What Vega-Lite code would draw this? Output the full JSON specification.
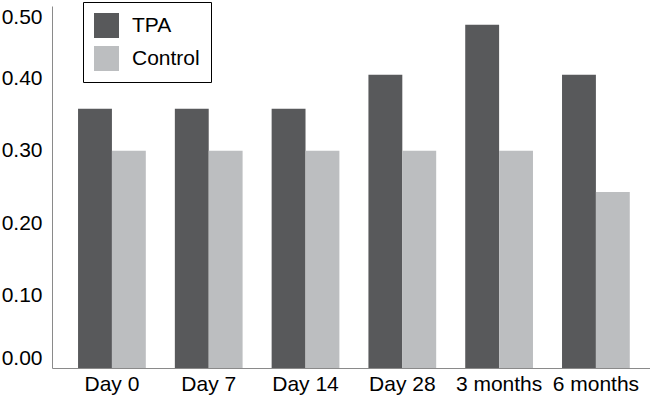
{
  "$schema": "https://vega.github.io/schema/vega-lite/v6.json",
  "autosize": {"type": "none"},
  "padding": {"left": 52, "top": 6, "right": 0, "bottom": 33},
  "width": 598,
  "height": 362,
  "background": "white",
  "data": {
    "values": [
      {"time": "Day 0", "group": "TPA", "value": 0.358},
      {"time": "Day 0", "group": "Control", "value": 0.3},
      {"time": "Day 7", "group": "TPA", "value": 0.358},
      {"time": "Day 7", "group": "Control", "value": 0.3},
      {"time": "Day 14", "group": "TPA", "value": 0.358},
      {"time": "Day 14", "group": "Control", "value": 0.3},
      {"time": "Day 28", "group": "TPA", "value": 0.405},
      {"time": "Day 28", "group": "Control", "value": 0.3},
      {"time": "3 months", "group": "TPA", "value": 0.474},
      {"time": "3 months", "group": "Control", "value": 0.3},
      {"time": "6 months", "group": "TPA", "value": 0.405},
      {"time": "6 months", "group": "Control", "value": 0.243}
    ]
  },
  "mark": {"type": "bar"},
  "encoding": {
    "x": {
      "field": "time",
      "type": "nominal",
      "sort": null,
      "title": null,
      "scale": {"paddingInner": 0.3, "paddingOuter": 0.239, "align": 0.563},
      "axis": {
        "labelAngle": 0,
        "ticks": false,
        "labelPadding": 5,
        "domainColor": "#8a8a8a",
        "labelFontSize": 21,
        "labelColor": "black"
      }
    },
    "xOffset": {
      "field": "group",
      "type": "nominal",
      "sort": ["TPA", "Control"],
      "scale": {"paddingInner": 0, "paddingOuter": 0}
    },
    "y": {
      "field": "value",
      "type": "quantitative",
      "title": null,
      "scale": {"domain": [0, 0.5], "nice": false},
      "axis": {
        "values": [0, 0.1, 0.2, 0.3, 0.4, 0.5],
        "format": ".2f",
        "grid": false,
        "ticks": false,
        "labelFlush": true,
        "labelPadding": 10,
        "domainColor": "#8a8a8a",
        "labelFontSize": 21,
        "labelColor": "black"
      }
    },
    "color": {
      "field": "group",
      "type": "nominal",
      "sort": ["TPA", "Control"],
      "scale": {"domain": ["TPA", "Control"], "range": ["#58595b", "#bcbec0"]},
      "legend": {
        "title": null,
        "orient": "none",
        "legendX": 31,
        "legendY": -4,
        "padding": 11,
        "strokeColor": "black",
        "symbolType": "square",
        "symbolSize": 625,
        "symbolStrokeWidth": 0,
        "symbolOpacity": 1,
        "labelFontSize": 21,
        "labelColor": "black",
        "labelOffset": 13,
        "rowPadding": 8
      }
    }
  },
  "config": {
    "font": "Liberation Sans",
    "view": {"stroke": null}
  }
}
